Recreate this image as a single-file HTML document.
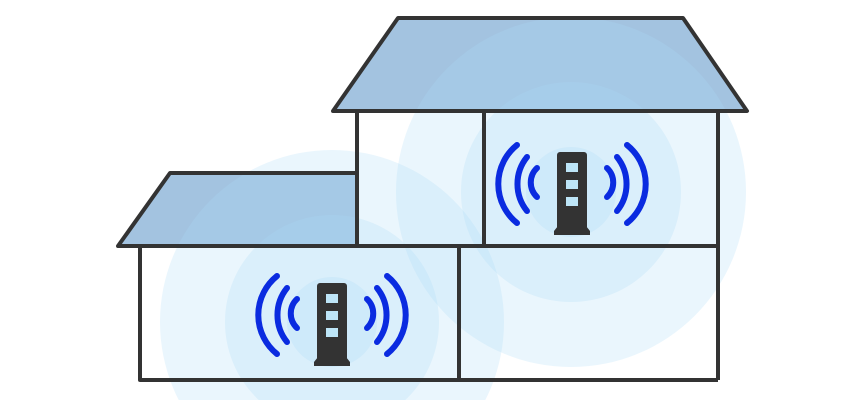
<!DOCTYPE html>
<html><head><style>html,body{margin:0;background:#fff;overflow:hidden;width:860px;height:400px}svg{display:block}</style></head><body>
<svg width="860" height="400" viewBox="0 0 860 400" xmlns="http://www.w3.org/2000/svg" style="overflow:hidden">
<defs>
<clipPath id="c"><rect x="0" y="0" width="860" height="400"/></clipPath>
<g id="r">
<path d="M297,299 A20,20 0 0 0 297,328" fill="none" stroke="#0a2be0" stroke-width="6" stroke-linecap="round"/>
<path d="M287,288 A43,43 0 0 0 287,342" fill="none" stroke="#0a2be0" stroke-width="6" stroke-linecap="round"/>
<path d="M277,276 A50,50 0 0 0 277,354" fill="none" stroke="#0a2be0" stroke-width="6" stroke-linecap="round"/>
<path d="M367,299 A20,20 0 0 1 367,328" fill="none" stroke="#0a2be0" stroke-width="6" stroke-linecap="round"/>
<path d="M377,288 A43,43 0 0 1 377,342" fill="none" stroke="#0a2be0" stroke-width="6" stroke-linecap="round"/>
<path d="M387,276 A50,50 0 0 1 387,354" fill="none" stroke="#0a2be0" stroke-width="6" stroke-linecap="round"/>
<rect x="317" y="283" width="30" height="78" rx="3" fill="#333"/>
<path d="M318,357 H346 L350,362 V366 H314 V362 Z" fill="#333"/>
<rect x="326" y="294" width="12" height="9" fill="#bde5f7"/>
<rect x="326" y="311" width="12" height="9" fill="#bde5f7"/>
<rect x="326" y="328" width="12" height="9" fill="#bde5f7"/>
</g>
</defs>
<g clip-path="url(#c)">
<polygon points="398,18 683,18 747,111 333,111" fill="#a3c3e0"/>
<polygon points="170,173 357,173 357,246 118,246" fill="#a3c3e0"/>
<g fill="rgb(170,220,248)" fill-opacity="0.25">
<circle cx="332" cy="322" r="172"/>
<circle cx="332" cy="322" r="107"/>
<circle cx="332" cy="322" r="45"/>
<circle cx="571" cy="192" r="175"/>
<circle cx="571" cy="192" r="110"/>
<circle cx="571" cy="192" r="45"/>
</g>
<g fill="none" stroke="#333" stroke-width="4" stroke-linejoin="round">
<polygon points="398,18 683,18 747,111 333,111"/>
<polygon points="170,173 357,173 357,246 118,246"/>
<polyline points="357,111 357,246"/>
<polyline points="718,111 718,380"/>
<line x1="484" y1="111" x2="484" y2="246"/>
<line x1="118" y1="246" x2="718" y2="246"/>
<polyline points="140,246 140,380 718,380"/>
<line x1="459" y1="246" x2="459" y2="380"/>
</g>
<use href="#r"/>
<use href="#r" transform="translate(240,-131)"/>
</g>
</svg>
</body></html>
